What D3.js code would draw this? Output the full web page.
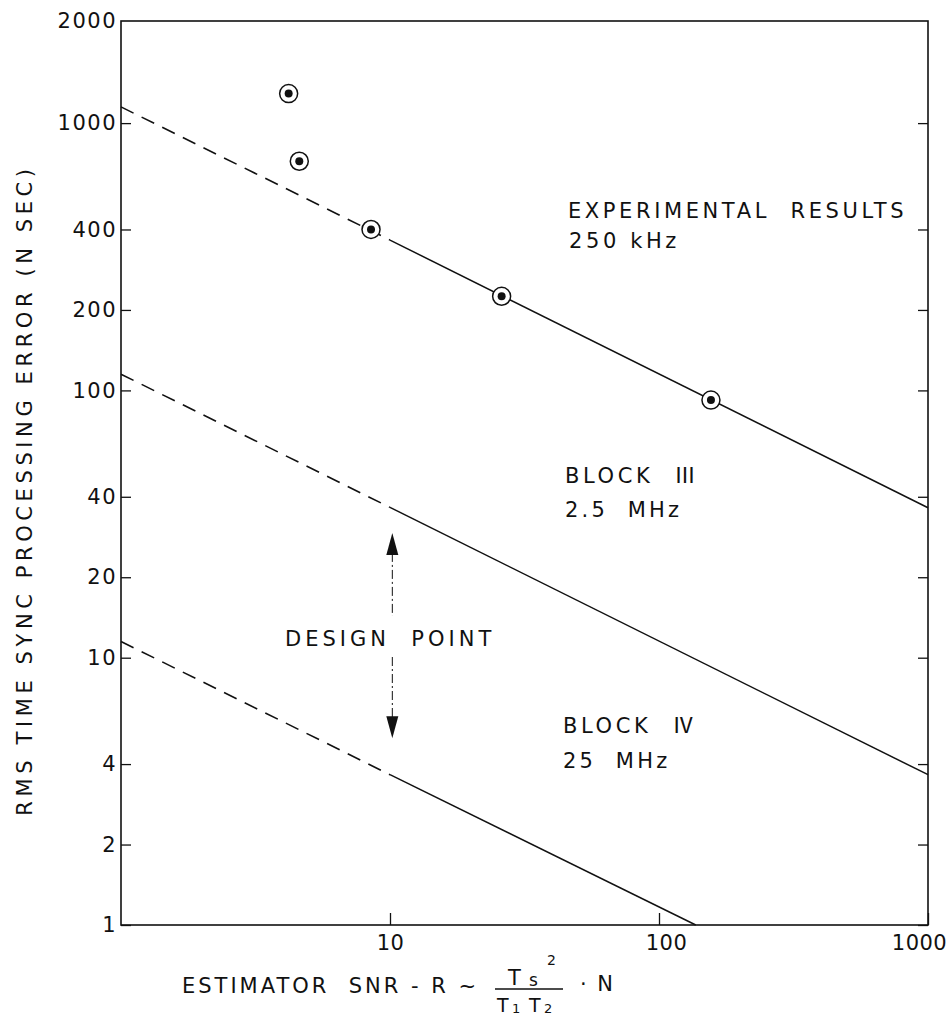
<!DOCTYPE html>
<html><head><meta charset="utf-8">
<script src="https://cdn.jsdelivr.net/npm/d3@7"></script>
<style>
body{margin:0;background:#fff}
text{font-family:"DejaVu Sans",sans-serif;fill:#111;white-space:pre}
</style>
</head><body><svg id="c" width="951" height="1018"></svg>
<script>
// ---- data ----
const xTickValues = [10, 100, 1000];
const yTickValues = [1, 2, 4, 10, 20, 40, 100, 200, 400, 1000];
const yTopLabel = "2000";
const xDomain = [1, 1000];
const yDomain = [1, 2410];
// experimental points (R, rms error ns)
const expR   = [4.2, 4.6, 8.5, 26, 156];
const expErr = [1290, 720, 400, 225, 92];
// theory lines: [dashed start, dash/solid break, solid end]
const expLineR = [1, 10, 1000];  const expLineE = [1150, 365, 36.4];
const b3LineR  = [1, 10, 1000];  const b3LineE  = [115, 36.5, 3.65];
const b4LineR  = [1, 10, 137];   const b4LineE  = [11.5, 3.65, 1];
// design point arrow
const designR = 10.2; const designE = [29.3, 5.0];

const svg = d3.select("#c");
const x = d3.scaleLog().domain(xDomain).range([121, 928]);
const y = d3.scaleLog().domain(yDomain).range([925, 21]);

// frame
svg.append("rect").attr("x", x.range()[0]).attr("y", y.range()[1])
  .attr("width", x.range()[1] - x.range()[0]).attr("height", y.range()[0] - y.range()[1])
  .attr("fill", "none").attr("stroke", "#111").attr("stroke-width", 1.6);

// axes
const fmt = d3.format("d");
const gl = svg.append("g").attr("transform", `translate(${x.range()[0]},0)`)
  .call(d3.axisLeft(y).tickValues(yTickValues).tickSize(-10).tickPadding(4).tickFormat(fmt));
const gr = svg.append("g").attr("transform", `translate(${x.range()[1]},0)`)
  .call(d3.axisRight(y).tickValues(yTickValues).tickSize(-10).tickFormat(""));
const gb = svg.append("g").attr("transform", `translate(0,${y.range()[0]})`)
  .call(d3.axisBottom(x).tickValues(xTickValues).tickSize(-12).tickPadding(10).tickFormat(fmt));
[gl, gr, gb].forEach(g => {
  g.select(".domain").remove();
  g.selectAll(".tick line").attr("stroke", "#111").attr("stroke-width", 1.3);
  g.selectAll("text").style("font-size", "21px").style("letter-spacing", "1.5px")
    .style("font-family", "DejaVu Sans").attr("fill", "#111");
});
gb.selectAll(".tick text").attr("dy", "0.71em").style("letter-spacing", "0.5px");
gb.selectAll(".tick text").filter(d => d === 1000).attr("dx", "-9");
gb.selectAll(".tick text").filter(d => d === 100).attr("dx", "7");
// top end label of y axis
svg.append("text").attr("x", x.range()[0] - 4).attr("y", y(yDomain[1])).attr("dy", "0.32em")
  .attr("text-anchor", "end").style("font-size", "21px").style("letter-spacing", "1.5px").text(yTopLabel);

// theory lines
const lineGen = d3.line().x(d => x(d[0])).y(d => y(d[1]));
[[expLineR, expLineE], [b3LineR, b3LineE], [b4LineR, b4LineE]].forEach(([R, E]) => {
  const pts = R.map((r, i) => [r, E[i]]);
  svg.append("path").attr("d", lineGen(pts.slice(0, 2)))
    .attr("fill", "none").attr("stroke", "#111").attr("stroke-width", 1.6)
    .attr("stroke-dasharray", "14,9");
  svg.append("path").attr("d", lineGen(pts.slice(1)))
    .attr("fill", "none").attr("stroke", "#111").attr("stroke-width", 1.5);
});

// experimental markers
const pg = svg.append("g");
expR.forEach((r, i) => {
  pg.append("circle").attr("cx", x(r)).attr("cy", y(expErr[i])).attr("r", 9)
    .attr("fill", "#fff").attr("stroke", "#111").attr("stroke-width", 1.5);
  pg.append("circle").attr("cx", x(r)).attr("cy", y(expErr[i])).attr("r", 4).attr("fill", "#111");
});

// design point arrow
const ax = x(designR), ay0 = y(designE[0]), ay1 = y(designE[1]);
const tri = (tipY, dir) => `M${ax},${tipY} L${ax - 6},${tipY + dir * 22} L${ax + 6},${tipY + dir * 22} Z`;
svg.append("path").attr("d", tri(ay0, 1)).attr("fill", "#111");
svg.append("path").attr("d", tri(ay1, -1)).attr("fill", "#111");
svg.append("line").attr("x1", ax).attr("x2", ax).attr("y1", ay0 + 20).attr("y2", 616)
  .attr("stroke", "#111").attr("stroke-width", 1).attr("stroke-dasharray", "9,3,2,3");
svg.append("line").attr("x1", ax).attr("x2", ax).attr("y1", 657).attr("y2", ay1 - 20)
  .attr("stroke", "#111").attr("stroke-width", 1).attr("stroke-dasharray", "9,3,2,3");

// annotations
const ann = (t, px, py, ls = 3, fs = 21) => svg.append("text").attr("x", px).attr("y", py)
  .style("font-size", fs + "px").style("letter-spacing", ls + "px").text(t);
ann("EXPERIMENTAL  RESULTS", 568, 218, 3.6);
ann("250 kHz", 569, 248, 3.6);
const blk = (label, num, px, py) => {
  const t = ann(label, px, py, 3.6);
  t.append("tspan").style("font-family", "Noto Sans CJK JP").style("letter-spacing", "0px")
    .style("font-size", "22px").text(num);
};
blk("BLOCK  ", "Ⅲ", 565, 483);
ann("2.5  MHz", 565, 517, 3.2);
ann("DESIGN  POINT", 285, 646, 4);
blk("BLOCK  ", "Ⅳ", 563, 733);
ann("25  MHz", 563, 768, 3.2);

// y-axis title
svg.append("text").attr("transform", "translate(32,490) rotate(-90)")
  .attr("text-anchor", "middle").style("font-size", "21px").style("letter-spacing", "4.6px")
  .text("RMS TIME SYNC PROCESSING ERROR (N SEC)");

// x-axis title with fraction
ann("ESTIMATOR  SNR - R ~", 182, 993, 3.0);
ann("T", 508, 985, 0);
ann("s", 529, 986, 0, 17);
ann("2", 547, 965, 0, 14);
svg.append("line").attr("x1", 495).attr("x2", 563).attr("y1", 989).attr("y2", 989)
  .attr("stroke", "#111").attr("stroke-width", 1.5);
ann("T", 497, 1012, 0, 19);
ann("1", 512, 1013, 0, 13);
ann("T", 529, 1012, 0, 19);
ann("2", 544, 1013, 0, 13);
ann("· N", 580, 991, 2);
</script></body></html>
